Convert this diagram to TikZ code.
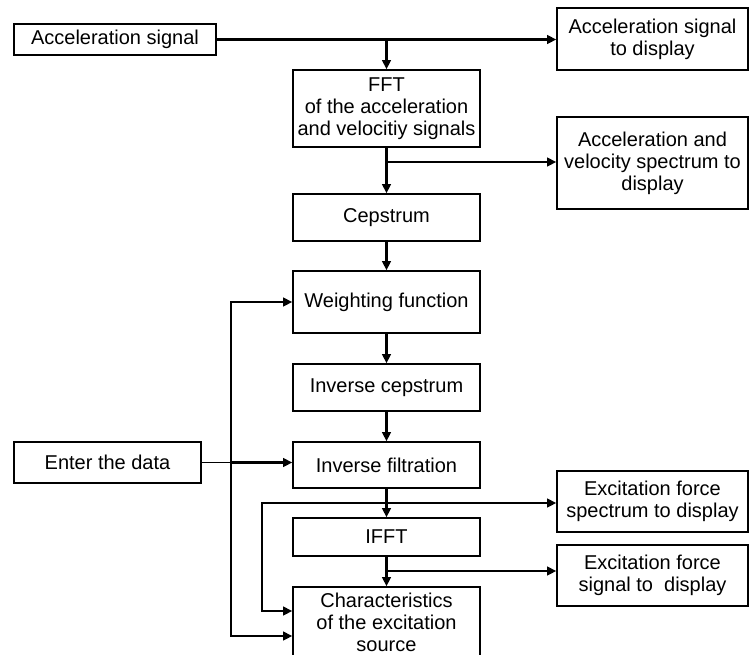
\documentclass[tikz,border=0pt]{standalone}
\usepackage{fontspec}
\setmainfont{Liberation Sans}
\usetikzlibrary{arrows.meta}
\begin{document}
\begin{tikzpicture}[x=0.75pt,y=-0.75pt,
  box/.style={draw,line width=1pt,inner sep=0pt,align=center,
    font=\fontsize{15}{16.5}\selectfont},
  bw/.style={minimum width=#1*0.75pt},
  bh/.style={minimum height=#1*0.75pt},
  conn/.style={line width=2pt,line cap=rect},
  thinconn/.style={line width=1pt},
  arr/.style={conn,-{Triangle[length=7pt,width=6.5pt]}}]
\useasboundingbox (0,0) rectangle (749,654);
% left column
\node[box,bw=202,bh=31] (accsig) at (115,39.5) {Acceleration signal};
\node[box,bw=187,bh=41] (enter) at (107.5,462.5) {Enter the data};
% centre column
\node[box,bw=187,bh=77] (fft) at (386.5,108.5) {FFT\\of the acceleration\\and velocitiy signals};
\node[box,bw=187,bh=47] (cep) at (386.5,217.5) {Cepstrum};
\node[box,bw=187,bh=62] (weight) at (386.5,302) {Weighting function};
\node[box,bw=187,bh=47] (invcep) at (386.5,387.5) {Inverse cepstrum};
\node[box,bw=187,bh=46] (invfilt) at (386.5,465) {Inverse filtration};
\node[box,bw=187,bh=38] (ifft) at (386.5,537) {IFFT};
\node[box,bw=187,bh=71] (char) at (386.5,622.5) {Characteristics\\of the excitation\\source};
% right column
\node[box,bw=191,bh=62] (disp1) at (652.5,39) {Acceleration signal\\to display};
\node[box,bw=191,bh=92] (disp2) at (652.5,163) {Acceleration and\\velocity spectrum to\\display};
\node[box,bw=191,bh=61] (specdisp) at (652.5,501.5) {Excitation force\\spectrum to display};
\node[box,bw=191,bh=61] (sigdisp) at (652.5,575.5) {Excitation force\\signal to\ \ display};
% junctions
\coordinate (j2) at (386.5,162);
\coordinate (j3) at (386.5,503);
\coordinate (j4) at (386.5,571);
\coordinate (l1) at (262,611);
\coordinate (o1) at (231,302);
\coordinate (o2) at (231,636);
% connectors
\draw[arr] (accsig.east) -- (accsig.east -| disp1.west);
\draw[arr] (accsig.east -| fft.north) -- (fft.north);
\draw[arr] (fft.south) -- (cep.north);
\draw[arr] (j2) -- (j2 -| disp2.west);
\draw[arr] (cep.south) -- (weight.north);
\draw[arr] (weight.south) -- (invcep.north);
\draw[arr] (invcep.south) -- (invfilt.north);
\draw[arr] (invfilt.south) -- (ifft.north);
\draw[arr] (j3) -- (j3 -| specdisp.west);
\draw[arr] (j3) -| (l1) -- (l1 -| char.west);
\draw[arr] (ifft.south) -- (char.north);
\draw[arr] (j4) -- (j4 -| sigdisp.west);
\draw[arr] (o2) -- (o1) -- (weight.west);
\draw[arr] (o1) -- (o2) -- (o2 -| char.west);
\draw[thinconn] (enter.east) -- (enter.east -| o1);
\draw[arr] (enter.east -| o1) -- (enter.east -| invfilt.west);
\end{tikzpicture}
\end{document}
